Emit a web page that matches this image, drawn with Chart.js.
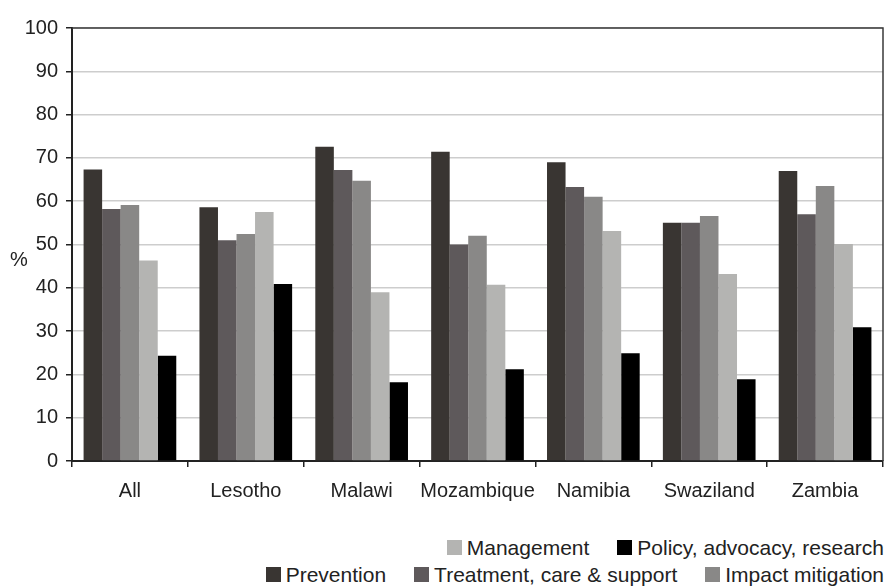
<!DOCTYPE html>
<html>
<head>
<meta charset="utf-8">
<script src="https://cdn.jsdelivr.net/npm/chart.js@4"></script>
<style>
  html, body { margin: 0; padding: 0; background: #fff; }
  #wrap { position: relative; width: 886px; height: 588px; font-family: "Liberation Sans", Arial, sans-serif; }
  #chart { position: absolute; left: 0; top: 0; }
  #legend { position: absolute; left: 0; top: 534px; width: 884px; color: #222; font-size: 21px; }
  .row { display: flex; justify-content: flex-end; height: 27px; align-items: center; }
  .item { display: flex; align-items: center; margin-left: 28px; white-space: nowrap; }
  .box { width: 15px; height: 15px; margin-right: 5px; }
</style>
</head>
<body>
<div id="wrap">
  <canvas id="chart" width="886" height="515"></canvas>
  <div id="legend"></div>
</div>
<script>
const categories = ['All', 'Lesotho', 'Malawi', 'Mozambique', 'Namibia', 'Swaziland', 'Zambia'];
const prevention = [67.3, 58.6, 72.6, 71.4, 69, 55, 67];
const treatment  = [58.2, 51, 67.2, 50, 63.3, 55, 57];
const impact     = [59.1, 52.4, 64.7, 52, 61, 56.6, 63.5];
const management = [46.3, 57.5, 39, 40.7, 53.1, 43.2, 50.1];
const policy     = [24.3, 40.9, 18.2, 21.2, 24.9, 18.9, 30.9];
const yTicks = [0, 10, 20, 30, 40, 50, 60, 70, 80, 90, 100];

const series = [
  { label: 'Prevention', data: prevention, color: '#393532' },
  { label: 'Treatment, care & support', data: treatment, color: '#5e595b' },
  { label: 'Impact mitigation', data: impact, color: '#898887' },
  { label: 'Management', data: management, color: '#b4b4b2' },
  { label: 'Policy, advocacy, research', data: policy, color: '#000000' }
];
// legend rows as laid out under the plot
const legendRows = [
  ['Management', 'Policy, advocacy, research'],
  ['Prevention', 'Treatment, care & support', 'Impact mitigation']
];

const FONT = '"Liberation Sans", Arial, sans-serif';

const framePlugin = {
  id: 'frame',
  afterDatasetsDraw(chart) {
    const { ctx, chartArea: a } = chart;
    ctx.save();
    ctx.strokeStyle = '#3a3a3a';
    ctx.lineWidth = 1.5;
    ctx.beginPath();
    ctx.moveTo(a.left, a.top);
    ctx.lineTo(a.right, a.top);
    ctx.lineTo(a.right, a.bottom);
    ctx.stroke();
    // unit label beside the value axis
    ctx.fillStyle = '#222';
    ctx.font = '20px ' + FONT;
    ctx.textAlign = 'center';
    ctx.textBaseline = 'middle';
    ctx.fillText('%', 19, (a.top + a.bottom) / 2 + 16);
    ctx.restore();
  }
};

new Chart(document.getElementById('chart'), {
  type: 'bar',
  data: {
    labels: categories,
    datasets: series.map(s => ({
      label: s.label,
      data: s.data,
      backgroundColor: s.color,
      borderWidth: 0,
      categoryPercentage: 0.8,
      barPercentage: 1.0
    }))
  },
  options: {
    responsive: false,
    animation: false,
    layout: { padding: { top: 28, right: 3, bottom: 4, left: 0 } },
    plugins: { legend: { display: false }, tooltip: { enabled: false } },
    scales: {
      x: {
        grid: { offset: true, drawOnChartArea: false, drawTicks: true, tickLength: 6, tickColor: '#222', lineWidth: 1.5 },
        border: { display: true, color: '#222', width: 2 },
        ticks: { color: '#222', font: { family: FONT, size: 20 }, padding: 12, maxRotation: 0, autoSkip: false },
        afterFit: s => { s.height = 50; }
      },
      y: {
        min: 0, max: 100,
        afterBuildTicks: s => { s.ticks = yTicks.map(v => ({ value: v })); },
        grid: {
          color: ctx => (ctx.tick && ctx.tick.value === 0) ? 'rgba(0,0,0,0)' : '#cdcdcd',
          lineWidth: 1.5,
          drawTicks: true, tickLength: 6, tickColor: '#222'
        },
        border: { display: true, color: '#222', width: 2 },
        ticks: { color: '#222', font: { family: FONT, size: 20 }, padding: 8 },
        afterFit: s => { s.width = 72; }
      }
    }
  },
  plugins: [framePlugin]
});

// legend built from the series definitions
const legend = document.getElementById('legend');
legendRows.forEach(row => {
  const r = document.createElement('div');
  r.className = 'row';
  row.forEach(name => {
    const s = series.find(x => x.label === name);
    const it = document.createElement('div');
    it.className = 'item';
    const b = document.createElement('span');
    b.className = 'box';
    b.style.background = s.color;
    const t = document.createElement('span');
    t.textContent = s.label;
    it.appendChild(b);
    it.appendChild(t);
    r.appendChild(it);
  });
  legend.appendChild(r);
});
</script>
</body>
</html>
